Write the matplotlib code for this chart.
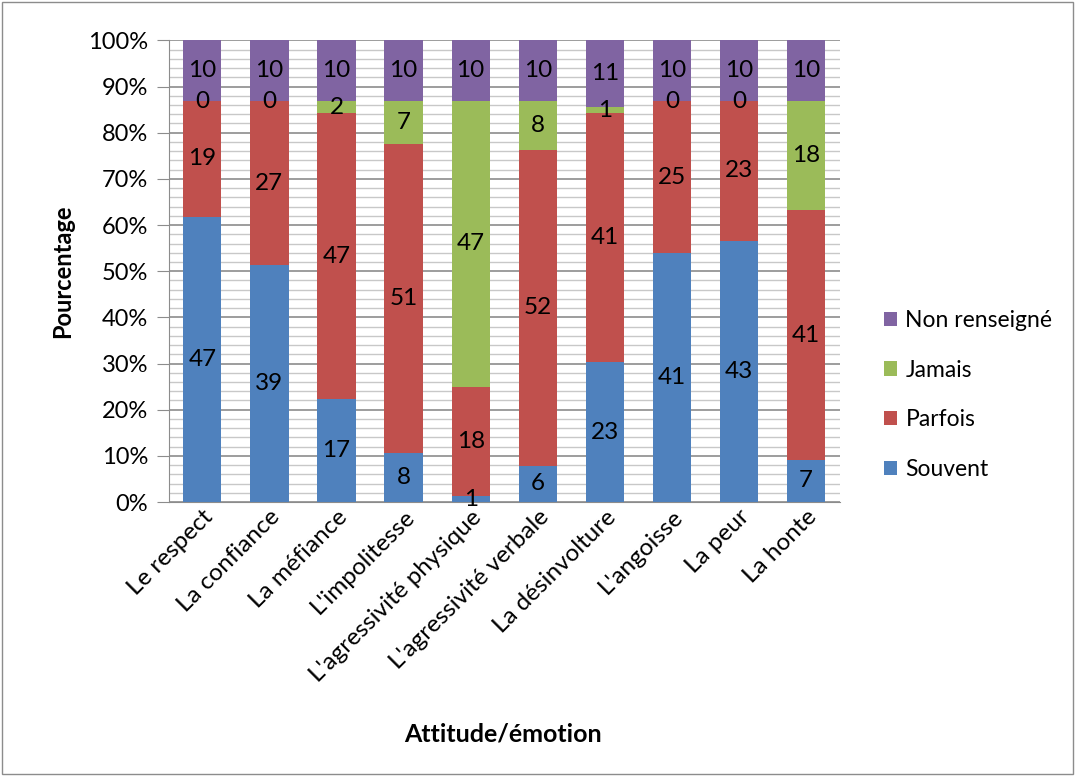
import matplotlib.pyplot as plt
import numpy as np
from matplotlib.ticker import MultipleLocator, PercentFormatter
from matplotlib.patches import Rectangle

plt.rcParams['font.family'] = ['Lato', 'DejaVu Sans']

categories = ["Le respect", "La confiance", "La méfiance", "L'impolitesse",
              "L'agressivité physique", "L'agressivité verbale", "La désinvolture",
              "L'angoisse", "La peur", "La honte"]
souvent = [47, 39, 17, 8, 1, 6, 23, 41, 43, 7]
parfois = [19, 27, 47, 51, 18, 52, 41, 25, 23, 41]
jamais = [0, 0, 2, 7, 47, 8, 1, 0, 0, 18]
non_renseigne = [10, 10, 10, 10, 10, 10, 11, 10, 10, 10]

series = [("Souvent", souvent, "#4F81BD"),
          ("Parfois", parfois, "#C0504D"),
          ("Jamais", jamais, "#9BBB59"),
          ("Non renseigné", non_renseigne, "#8064A2")]

fig = plt.figure(figsize=(10.75, 7.76), dpi=100)
ax = fig.add_axes([0.157, 0.353, 0.624, 0.595])

x = np.arange(len(categories))
totals = np.sum([s[1] for s in series], axis=0)
bottom = np.zeros(len(categories))
handles = []
for name, vals, col in series:
    pct = np.array(vals) / totals * 100
    b = ax.bar(x, pct, 0.57, bottom=bottom, color=col, label=name, zorder=3)
    handles.append(b)
    for xi, bt, h, v in zip(x, bottom, pct, vals):
        ax.text(xi, bt + h / 2, str(v), ha="center", va="center", fontsize=17.5, zorder=4)
    bottom += pct

ax.set_xlim(-0.5, len(categories) - 0.5)
ax.set_ylim(0, 100)
ax.yaxis.set_major_locator(MultipleLocator(10))
ax.yaxis.set_minor_locator(MultipleLocator(2))
ax.yaxis.set_major_formatter(PercentFormatter(decimals=0))
ax.grid(axis="y", which="major", color="#8c8c8c", lw=1.2, zorder=0)
ax.grid(axis="y", which="minor", color="#c8c8c8", lw=1, zorder=0)
ax.tick_params(axis="y", which="major", length=9, color="#8c8c8c", labelsize=17, pad=6)
ax.tick_params(axis="y", which="minor", length=0)
ax.tick_params(axis="x", length=0, labelsize=17.5, pad=3)
ax.set_xticks(x)
ax.set_xticklabels(categories, rotation=45, ha="right", rotation_mode="anchor")
for s in ["top", "right"]:
    ax.spines[s].set_visible(False)
ax.spines["left"].set_color("#8c8c8c")
ax.spines["bottom"].set_color("#8c8c8c")

ax.set_ylabel("Pourcentage", fontsize=17, fontweight="bold", labelpad=10)
fig.text(0.468, 0.045, "Attitude/émotion", fontsize=18, fontweight="bold", ha="center")

ax.legend(handles[::-1], [s[0] for s in series][::-1], loc="center left",
          bbox_to_anchor=(1.035, 0.232), frameon=False, fontsize=16.5,
          handlelength=0.6, handleheight=0.6, labelspacing=1.25, handletextpad=0.35)

fig.patches.append(Rectangle((0.002, 0.002), 0.996, 0.996, transform=fig.transFigure,
                             fill=False, edgecolor="#8c8c8c", lw=1))

plt.savefig("out.png", dpi=100)
